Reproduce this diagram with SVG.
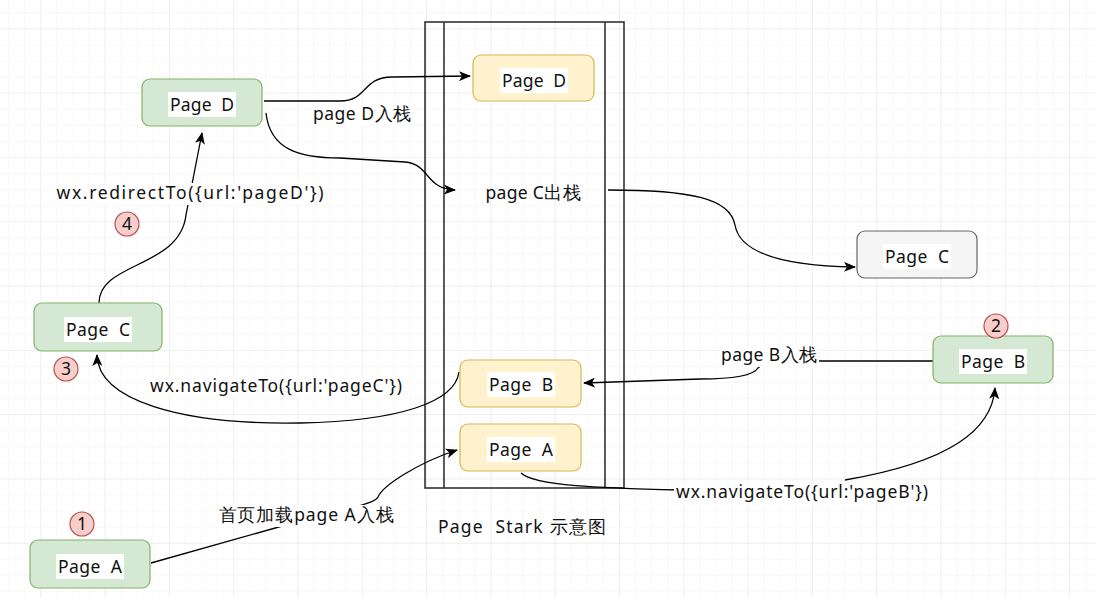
<svg xmlns="http://www.w3.org/2000/svg" width="1097" height="598" viewBox="0 0 1097 598">
<defs>
<pattern id="minor" x="40.3" y="28.3" width="16.075" height="16.075" patternUnits="userSpaceOnUse">
<path d="M0 0H16.075M0 0V16.075" fill="none" stroke="#f3f3f3" stroke-width="1"/>
</pattern>
<pattern id="major" x="40.3" y="28.3" width="64.3" height="64.3" patternUnits="userSpaceOnUse">
<path d="M0 0H64.3M0 0V64.3" fill="none" stroke="#e6e6e6" stroke-width="1"/>
</pattern>
<marker id="arr" viewBox="0 0 12 10" refX="11" refY="5" markerWidth="12" markerHeight="10" markerUnits="userSpaceOnUse" orient="auto">
<path d="M0 0 L12 5 L0 10 L3 5 Z" fill="#000"/>
</marker>
</defs>
<style>
text{font-family:"Noto Sans","DejaVu Sans",sans-serif;font-size:17.5px;fill:#111;white-space:pre}
.c{text-anchor:middle}
.green{fill:#d5e8d4;stroke:#82b366;stroke-width:1.2}
.yellow{fill:#fff2cc;stroke:#d6b656;stroke-width:1.2}
.gray{fill:#f5f5f5;stroke:#666666;stroke-width:1.2}
.tb{fill:#fff}
.badge circle{fill:#f8cecc;stroke:#b85450;stroke-width:1.2}
.edge{fill:none;stroke:#000;stroke-width:1.3}
.frame{fill:none;stroke:#333;stroke-width:1.6}
</style>
<rect width="1097" height="598" fill="#fff"/>
<rect width="1097" height="598" fill="url(#minor)"/>
<rect width="1097" height="598" fill="url(#major)"/>

<g id="stack">
<rect x="425" y="22" width="199" height="466" fill="#fff" class="frame"/>
<line x1="444" y1="22" x2="444" y2="488" class="frame"/>
<line x1="605" y1="22" x2="605" y2="488" class="frame"/>
</g>

<g id="connectors">
<path class="edge" d="M264 101 L340 101 C368 101 362 77 392 77 L470 76" marker-end="url(#arr)"/>
<path class="edge" d="M266 113 C270 150 300 158 340 158 L405 162 C430 164 425 189 455 190" marker-end="url(#arr)"/>
<path class="edge" d="M608 190 C690 190 730 198 735 225 C740 255 790 266 855 267" marker-end="url(#arr)"/>
<path class="edge" d="M933 361 L818 361 C790 361 765 360 758 368 C752 378 720 379 700 379 L584 383" marker-end="url(#arr)"/>
<path class="edge" d="M521 473 C535 486 600 488 680 490"/>
<path class="edge" d="M845 480 C950 462 992 430 995 388" marker-end="url(#arr)"/>
<path class="edge" d="M459 372 C455 402 400 421 300 423 C180 425 98 400 97 355" marker-end="url(#arr)"/>
<path class="edge" d="M99 303 C99 262 180 268 186 215 L202 133" marker-end="url(#arr)"/>
<path class="edge" d="M151 563 L300 521 C330 512 375 505 378 497 C383 485 420 462 457 450" marker-end="url(#arr)"/>
</g>

<g id="labels">
<rect class="tb" x="311" y="104" width="102" height="22"/>
<text class="c" x="362" y="120" textLength="98" lengthAdjust="spacing">page D入栈</text>
<rect class="tb" x="55" y="183" width="270" height="22"/>
<text class="c" x="190" y="199" textLength="267" lengthAdjust="spacing">wx.redirectTo({url:'pageD'})</text>
<rect class="tb" x="149" y="376" width="255" height="22"/>
<text class="c" x="276" y="392" textLength="252" lengthAdjust="spacing">wx.navigateTo({url:'pageC'})</text>
<rect class="tb" x="720" y="345" width="99" height="22"/>
<text class="c" x="769" y="361" textLength="96" lengthAdjust="spacing">page B入栈</text>
<rect class="tb" x="218" y="505" width="178" height="22"/>
<text class="c" x="306" y="521" textLength="175" lengthAdjust="spacing">首页加载page A入栈</text>
<rect class="tb" x="674" y="482" width="256" height="22"/>
<text class="c" x="802" y="498" textLength="252" lengthAdjust="spacing">wx.navigateTo({url:'pageB'})</text>
<text class="c" x="533" y="199" textLength="95" lengthAdjust="spacing">page C出栈</text>
<text class="c" x="522" y="533" textLength="168" lengthAdjust="spacing">Page  Stark 示意图</text>
</g>

<g id="stack-page-d">
<rect class="yellow" x="473" y="55" width="121" height="46" rx="8"/>
<rect class="tb" x="500" y="68" width="68" height="25"/>
<text class="c" x="534" y="87" textLength="64" lengthAdjust="spacing">Page  D</text>
</g>
<g id="stack-page-b">
<rect class="yellow" x="460" y="360" width="121" height="47" rx="8"/>
<rect class="tb" x="487" y="372" width="68" height="25"/>
<text class="c" x="521" y="391" textLength="64" lengthAdjust="spacing">Page  B</text>
</g>
<g id="stack-page-a">
<rect class="yellow" x="460" y="424" width="121" height="47" rx="8"/>
<rect class="tb" x="487" y="437" width="68" height="25"/>
<text class="c" x="521" y="456" textLength="64" lengthAdjust="spacing">Page  A</text>
</g>

<g id="page-d">
<rect class="green" x="142" y="79" width="120" height="47" rx="8"/>
<rect class="tb" x="168" y="92" width="68" height="25"/>
<text class="c" x="202" y="111" textLength="64" lengthAdjust="spacing">Page  D</text>
</g>
<g id="page-c">
<rect class="green" x="34" y="303" width="128" height="48" rx="8"/>
<rect class="tb" x="64" y="317" width="68" height="25"/>
<text class="c" x="98" y="336" textLength="64" lengthAdjust="spacing">Page  C</text>
</g>
<g id="page-a">
<rect class="green" x="30" y="540" width="120" height="48" rx="8"/>
<rect class="tb" x="56" y="554" width="68" height="25"/>
<text class="c" x="90" y="573" textLength="64" lengthAdjust="spacing">Page  A</text>
</g>
<g id="page-b">
<rect class="green" x="933" y="336" width="120" height="47" rx="8"/>
<rect class="tb" x="959" y="349" width="68" height="25"/>
<text class="c" x="993" y="368" textLength="64" lengthAdjust="spacing">Page  B</text>
</g>
<g id="page-c-out">
<rect class="gray" x="857" y="231" width="120" height="47" rx="8"/>
<rect class="tb" x="883" y="244" width="68" height="25"/>
<text class="c" x="917" y="263" textLength="64" lengthAdjust="spacing">Page  C</text>
</g>

<g id="badge-1" class="badge"><circle cx="82" cy="524" r="12"/><text class="c" x="82" y="530">1</text></g>
<g id="badge-2" class="badge"><circle cx="996" cy="326" r="12"/><text class="c" x="996" y="332">2</text></g>
<g id="badge-3" class="badge"><circle cx="66" cy="369" r="12"/><text class="c" x="66" y="375">3</text></g>
<g id="badge-4" class="badge"><circle cx="127" cy="224" r="12"/><text class="c" x="127" y="230">4</text></g>
</svg>
